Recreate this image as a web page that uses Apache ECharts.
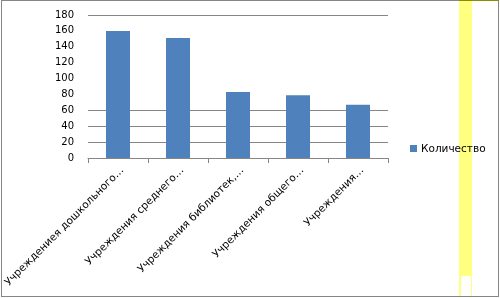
<!DOCTYPE html>
<html><head><meta charset="utf-8">
<script src="https://cdn.jsdelivr.net/npm/echarts@6/dist/echarts.min.js"></script>
<style>
html,body{margin:0;padding:0;background:#fff}
#wrap{position:relative;width:500px;height:298px}
#c{position:absolute;left:0;top:0;width:500px;height:298px}
.frame{position:absolute;left:1px;top:0;border:1px solid #868686;box-sizing:border-box;width:498px;height:297px}
.band{position:absolute;left:459px;top:0;width:13px;height:297px;background:#FFFF80}
.hole{position:absolute;left:461px;top:276px;width:10px;height:21px;background:#fff}
.olive{position:absolute;left:459px;top:0;width:40px;height:1px;background:#8c8c00}
</style>
</head><body><div id="wrap">
<div class="band"></div><div class="hole"></div><div class="frame"></div><div class="olive"></div>
<div id="c"></div></div>
<script>
const categories = ['Учреждениея дошкольного…', 'Учреждения среднего…', 'Учреждения библиотек,…', 'Учреждения общего…', 'Учреждения…'];
const seriesName = 'Количество';
const values = [160, 151, 83, 79, 67];
const yTicks = [0, 20, 40, 60, 80, 100, 120, 140, 160, 180];
const visibleGrid = [0, 20, 40, 60, 180];

const barColor = '#4F81BD';
const chart = echarts.init(document.getElementById('c'));
chart.setOption({
  animation: false,
  backgroundColor: 'transparent',
  textStyle: { fontFamily: 'DejaVu Sans' },
  grid: { left: 88, right: 112, top: 15, bottom: 140, containLabel: false, show: false, borderWidth: 0 },
  xAxis: {
    type: 'category', data: categories,
    axisLine: { lineStyle: { color: '#868686', width: 1 } },
    axisTick: { show: true, length: 5, lineStyle: { color: '#868686' } },
    splitLine: { show: false },
    axisLabel: { interval: 0, rotate: 45, margin: 15, color: '#000', fontSize: 10.5, fontFamily: 'DejaVu Sans', padding: [0, -6, 0, 0] }
  },
  yAxis: {
    type: 'value', min: yTicks[0], max: yTicks[yTicks.length - 1], interval: 20,
    axisLine: { show: false }, axisTick: { show: false },
    axisLabel: { margin: 14, color: '#000', fontSize: 10, fontFamily: 'DejaVu Sans' },
    splitLine: { show: false }
  },
  graphic: [
    { type: 'rect', shape: { x: 410, y: 145, width: 7, height: 7 }, style: { fill: barColor } },
    { type: 'text', x: 421, y: 149, style: { text: seriesName, fill: '#000', font: '10.5px "DejaVu Sans"', verticalAlign: 'middle', align: 'left' } }
  ],
  series: [{
    name: seriesName, type: 'bar', data: values, barWidth: '40%', z: 3,
    itemStyle: { color: barColor },
    markLine: {
      silent: true, symbol: 'none', z: 1, label: { show: false },
      lineStyle: { color: '#868686', width: 1, type: 'solid' },
      emphasis: { disabled: true },
      data: visibleGrid.map(v => ({ yAxis: v }))
    }
  }]
});
</script></body></html>
